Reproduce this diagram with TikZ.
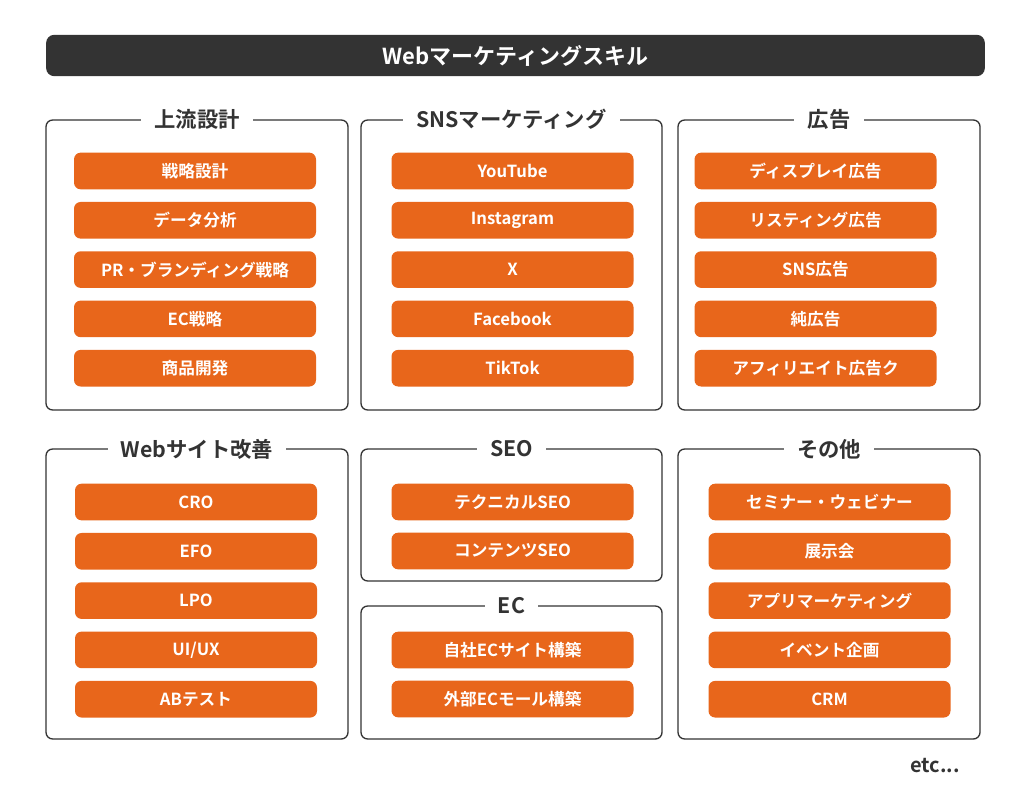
\documentclass[tikz,border=0pt]{standalone}
\usepackage{fontspec}
\setmainfont{Noto Sans CJK JP}[BoldFont={* Bold}]
\definecolor{og}{HTML}{E8661B}
\definecolor{dk}{HTML}{333333}
\begin{document}
\begin{tikzpicture}[x=0.75pt,y=-0.75pt,
 item/.style={fill=og,rounded corners=5pt,minimum width=181.5pt,minimum height=27.5pt,text=white,font=\bfseries\fontsize{12.5}{14}\selectfont,inner sep=0pt},
 panel/.style={draw=dk,line width=1pt,rounded corners=5pt},
 ptitle/.style={fill=white,inner xsep=10pt,inner ysep=2pt,font=\bfseries\fontsize{16}{18}\selectfont,text=dk}]
\useasboundingbox (0,0) rectangle (1024,805);
\fill[white] (0,0) rectangle (1024,805);
\node[fill=dk,rounded corners=6pt,minimum width=704pt,minimum height=31pt,text=white,font=\bfseries\fontsize{16.5}{18}\selectfont] (title) at (515.5,55.5) {Webマーケティングスキル};
% panels
\draw[panel] (46,120) rectangle (348,410); \node[ptitle] (p1) at (197,119) {上流設計};
\draw[panel] (361,120) rectangle (662,410); \node[ptitle] (p2) at (511.5,119) {SNSマーケティング};
\draw[panel] (678,120) rectangle (980,410); \node[ptitle] (p3) at (829,119) {広告};
\draw[panel] (46,449) rectangle (348,739); \node[ptitle] (p4) at (197,449) {Webサイト改善};
\draw[panel] (361,449) rectangle (662,581); \node[ptitle] (p5) at (511.5,449) {SEO};
\draw[panel] (361,606) rectangle (662,739); \node[ptitle] (p6) at (511.5,606) {EC};
\draw[panel] (678,449) rectangle (980,739); \node[ptitle] (p7) at (829,449) {その他};
% items
\foreach \t [count=\i] in {戦略設計,データ分析,PR・ブランディング戦略,EC戦略,商品開発}
 \node[item] (a\i) at (195,{171+49.3*(\i-1)}) {\t};
\foreach \t [count=\i] in {YouTube,Instagram,X,Facebook,TikTok}
 \node[item] (b\i) at (512.5,{171+49.3*(\i-1)}) {\t};
\foreach \t [count=\i] in {ディスプレイ広告,リスティング広告,SNS広告,純広告,アフィリエイト広告ク}
 \node[item] (c\i) at (815.5,{171+49.3*(\i-1)}) {\t};
\foreach \t [count=\i] in {CRO,EFO,LPO,UI/UX,ABテスト}
 \node[item] (d\i) at (196,{502+49.3*(\i-1)}) {\t};
\node[item] (e1) at (512.5,502) {テクニカルSEO};
\node[item] (e2) at (512.5,551) {コンテンツSEO};
\node[item] (f1) at (512.5,650) {自社ECサイト構築};
\node[item] (f2) at (512.5,699) {外部ECモール構築};
\foreach \t [count=\i] in {セミナー・ウェビナー,展示会,アプリマーケティング,イベント企画,CRM}
 \node[item] (g\i) at (829.5,{502+49.3*(\i-1)}) {\t};
\node[font=\bfseries\fontsize{15}{17}\selectfont,text=dk] (etc) at (935,766) {etc...};
\end{tikzpicture}
\end{document}
